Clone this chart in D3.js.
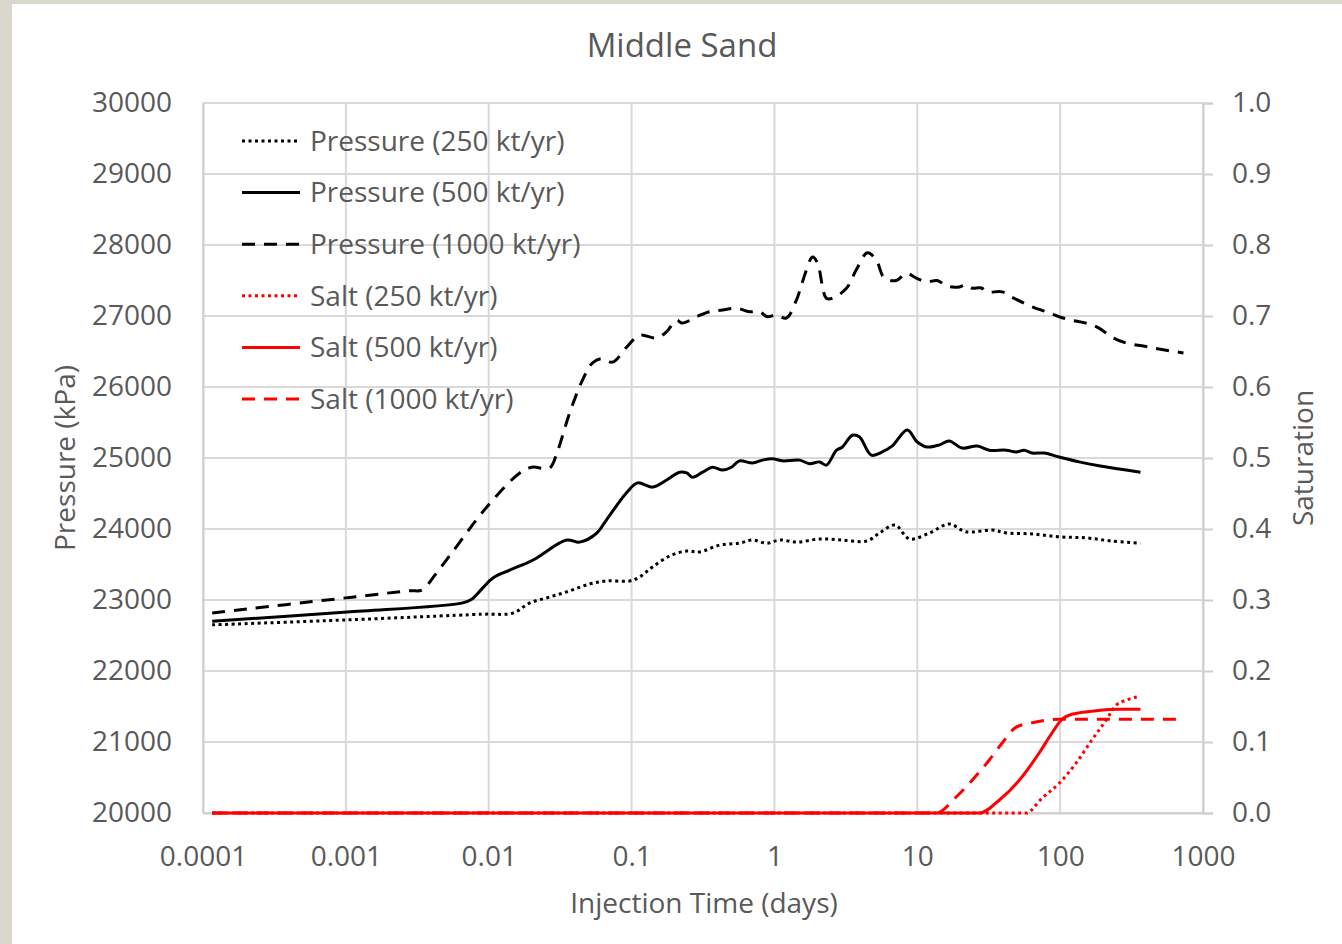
<!DOCTYPE html>
<html>
<head>
<meta charset="utf-8">
<script src="https://cdn.jsdelivr.net/npm/d3@7"></script>
<style>
  body { margin: 0; background: #d8d8cc; }
  svg { display: block; }
  text { font-family: "Open Sans", "Noto Sans", sans-serif; fill: #595959; }
</style>
</head>
<body>
<div id="chart"></div>
<script>
// x ticks (days, log scale)
const xTicks = [0.0001, 0.001, 0.01, 0.1, 1, 10, 100, 1000];
const xTickLabels = ["0.0001", "0.001", "0.01", "0.1", "1", "10", "100", "1000"];
const pTicks = d3.range(20000, 30001, 1000);
const sTicks = d3.range(0, 1.0001, 0.1);

// [time (days), pressure (kPa)]
const pressure250 = [
  [0.000116, 22650], [0.00102, 22720], [0.00908, 22800], [0.0147, 22815], [0.0194, 22958],
  [0.0267, 23042], [0.0368, 23127], [0.0508, 23225], [0.0668, 23268], [0.0968, 23268],
  [0.114, 23324], [0.140, 23465], [0.185, 23620], [0.243, 23690], [0.299, 23676],
  [0.416, 23775], [0.569, 23800], [0.702, 23845], [0.884, 23800], [1.09, 23845],
  [1.44, 23815], [2.07, 23860], [2.99, 23845], [4.43, 23830], [5.46, 23945],
  [6.98, 24055], [8.84, 23860], [12.2, 23945], [16.7, 24070], [22.0, 23960],
  [33.5, 23985], [41.9, 23945], [63.7, 23930], [98.4, 23890], [152, 23875],
  [231, 23830], [365, 23800]
];
const pressure500 = [
  [0.000116, 22700], [0.00102, 22830], [0.00658, 22960], [0.0076, 23010], [0.00908, 23170],
  [0.0107, 23310], [0.0140, 23420], [0.0203, 23560], [0.0351, 23845], [0.0433, 23815],
  [0.0569, 23940], [0.0668, 24130], [0.0922, 24510], [0.110, 24650], [0.140, 24590],
  [0.176, 24690], [0.217, 24800], [0.243, 24790], [0.267, 24730], [0.314, 24800],
  [0.368, 24870], [0.433, 24830], [0.500, 24870], [0.569, 24960], [0.702, 24930],
  [0.824, 24970], [0.968, 24990], [1.14, 24960], [1.50, 24970], [1.76, 24920],
  [2.07, 24945], [2.31, 24900], [2.72, 25110], [2.99, 25155], [3.51, 25320],
  [3.93, 25300], [4.77, 25040], [5.69, 25085], [6.68, 25170], [8.51, 25395],
  [10.0, 25225], [11.7, 25155], [14.3, 25185], [16.7, 25240], [20.6, 25140],
  [26.3, 25170], [31.9, 25110], [41.9, 25110], [49.2, 25085], [56.0, 25110],
  [63.7, 25070], [77.3, 25070], [98.4, 25015], [136, 24945], [187, 24890],
  [259, 24845], [365, 24800]
];
const pressure1000 = [
  [0.000116, 22817], [0.001, 23030], [0.0028, 23130], [0.0034, 23140], [0.0042, 23350],
  [0.0055, 23660], [0.0097, 24310], [0.0165, 24790], [0.020, 24870], [0.0267, 24860],
  [0.030, 25070], [0.0368, 25630], [0.0454, 26100], [0.0533, 26340], [0.0617, 26400],
  [0.0736, 26350], [0.0922, 26560], [0.114, 26730], [0.150, 26690], [0.176, 26780],
  [0.206, 26940], [0.227, 26900], [0.285, 26990], [0.351, 27060], [0.433, 27085],
  [0.542, 27110], [0.668, 27060], [0.785, 27060], [0.893, 26990], [1.03, 27015],
  [1.21, 26970], [1.43, 27230], [1.57, 27480], [1.85, 27830], [2.0, 27750],
  [2.31, 27250], [2.55, 27250], [3.19, 27390], [3.74, 27650], [4.47, 27890],
  [5.16, 27790], [5.88, 27535], [7.13, 27500], [8.38, 27600], [9.84, 27535],
  [11.6, 27480], [13.8, 27500], [16.2, 27420], [19.7, 27410], [22.0, 27440],
  [23.9, 27395], [28.1, 27395], [30.9, 27340], [39.3, 27340], [45.4, 27270],
  [56.0, 27180], [63.7, 27130], [79.8, 27060], [98.4, 26990], [121, 26940],
  [152, 26900], [187, 26830], [231, 26700], [290, 26620], [374, 26580],
  [492, 26535], [730, 26480]
];

// [time (days), salt saturation]
const salt250 = [
  [0.000116, 0], [57.8, 0], [74.8, 0.021], [98.4, 0.042], [129, 0.070],
  [167, 0.103], [210, 0.131], [247, 0.152], [290, 0.159], [357, 0.164]
];
const salt500 = [
  [0.000116, 0], [27.2, 0], [37.4, 0.018], [51.7, 0.046], [71.3, 0.0845],
  [87.9, 0.113], [102, 0.131], [121, 0.139], [179, 0.144], [259, 0.146], [365, 0.146]
];
const salt1000 = [
  [0.000116, 0], [13.6, 0], [18.7, 0.0225], [24.3, 0.0465], [31.9, 0.0746],
  [39.3, 0.0986], [49.2, 0.121], [63.7, 0.127], [98.4, 0.132], [730, 0.132]
];

const W = 1342, H = 944;
const plotLeft = 203, plotRight = 1203, plotTop = 103, plotBottom = 813;

const svg = d3.select("#chart").append("svg").attr("width", W).attr("height", H);
svg.append("rect").attr("x", 12).attr("y", 4).attr("width", W - 12).attr("height", H - 4).attr("fill", "#fff");

const x = d3.scaleLog().domain([0.0001, 1000]).range([plotLeft, plotRight]);
const yP = d3.scaleLinear().domain([20000, 30000]).range([plotBottom, plotTop]);
const yS = d3.scaleLinear().domain([0, 1]).range([plotBottom, plotTop]);

// gridlines
const grid = svg.append("g");
grid.selectAll(".hg").data(pTicks).enter().append("line")
  .attr("x1", plotLeft).attr("x2", plotRight)
  .attr("y1", d => yP(d)).attr("y2", d => yP(d))
  .attr("stroke", "#d9d9d9").attr("stroke-width", 2);
grid.selectAll(".vg").data(xTicks).enter().append("line")
  .attr("x1", d => x(d)).attr("x2", d => x(d))
  .attr("y1", plotTop).attr("y2", plotBottom)
  .attr("stroke", "#d9d9d9").attr("stroke-width", 2);

// axes
const axisLeft = svg.append("g").attr("transform", `translate(${plotLeft},0)`)
  .call(d3.axisLeft(yP).tickValues(pTicks).tickSize(0).tickPadding(31).tickFormat(d3.format("d")));
const axisRight = svg.append("g").attr("transform", `translate(${plotRight},0)`)
  .call(d3.axisRight(yS).tickValues(sTicks).tickSize(10).tickPadding(19).tickFormat(d3.format(".1f")));
const axisBottom = svg.append("g").attr("transform", `translate(0,${plotBottom})`)
  .call(d3.axisBottom(x).tickValues(xTicks).tickSize(0).tickPadding(33).tickFormat((d, i) => xTickLabels[i]));

[axisLeft, axisRight, axisBottom].forEach(a => {
  a.select(".domain").attr("stroke", "#cfcfcf").attr("stroke-width", 2);
  a.selectAll(".tick line").attr("stroke", "#cfcfcf").attr("stroke-width", 2);
  a.selectAll("text").style("font-size", "28px").attr("fill", "#595959");
});

// titles
svg.append("text").attr("x", 682).attr("y", 45).attr("dy", "0.35em")
  .attr("text-anchor", "middle").style("font-size", "33px").text("Middle Sand");
svg.append("text").attr("x", 704).attr("y", 903).attr("dy", "0.35em")
  .attr("text-anchor", "middle").style("font-size", "28px").text("Injection Time (days)");
svg.append("text").attr("transform", "translate(65,458) rotate(-90)").attr("dy", "0.35em")
  .attr("text-anchor", "middle").style("font-size", "28px").text("Pressure (kPa)");
svg.append("text").attr("transform", "translate(1303,458) rotate(-90)").attr("dy", "0.35em")
  .attr("text-anchor", "middle").style("font-size", "28px").text("Saturation");

// series
const series = [
  { name: "Pressure (250 kt/yr)", data: pressure250, y: yP, color: "#000", dash: "3,3.5", curve: d3.curveCatmullRom.alpha(0.5) },
  { name: "Pressure (500 kt/yr)", data: pressure500, y: yP, color: "#000", dash: null, curve: d3.curveCatmullRom.alpha(0.5) },
  { name: "Pressure (1000 kt/yr)", data: pressure1000, y: yP, color: "#000", dash: "13,9", curve: d3.curveCatmullRom.alpha(0.5) },
  { name: "Salt (250 kt/yr)", data: salt250, y: yS, color: "#ff0000", dash: "3,3.5", curve: d3.curveMonotoneX },
  { name: "Salt (500 kt/yr)", data: salt500, y: yS, color: "#ff0000", dash: null, curve: d3.curveMonotoneX },
  { name: "Salt (1000 kt/yr)", data: salt1000, y: yS, color: "#ff0000", dash: "13,9", curve: d3.curveMonotoneX }
];

series.forEach(s => {
  const line = d3.line().x(d => x(d[0])).y(d => s.y(d[1])).curve(s.curve);
  svg.append("path").datum(s.data)
    .attr("d", line)
    .attr("fill", "none")
    .attr("stroke", s.color)
    .attr("stroke-width", 3)
    .attr("stroke-dasharray", s.dash)
    .attr("stroke-linejoin", "round");
});

// legend
const legend = svg.append("g");
series.forEach((s, i) => {
  const ly = 141 + i * 51.6;
  legend.append("line").attr("x1", 242).attr("x2", 300).attr("y1", ly).attr("y2", ly)
    .attr("stroke", s.color).attr("stroke-width", 3).attr("stroke-dasharray", s.dash);
  legend.append("text").attr("x", 310).attr("y", ly).attr("dy", "0.35em")
    .style("font-size", "28px").text(s.name);
});
</script>
</body>
</html>
